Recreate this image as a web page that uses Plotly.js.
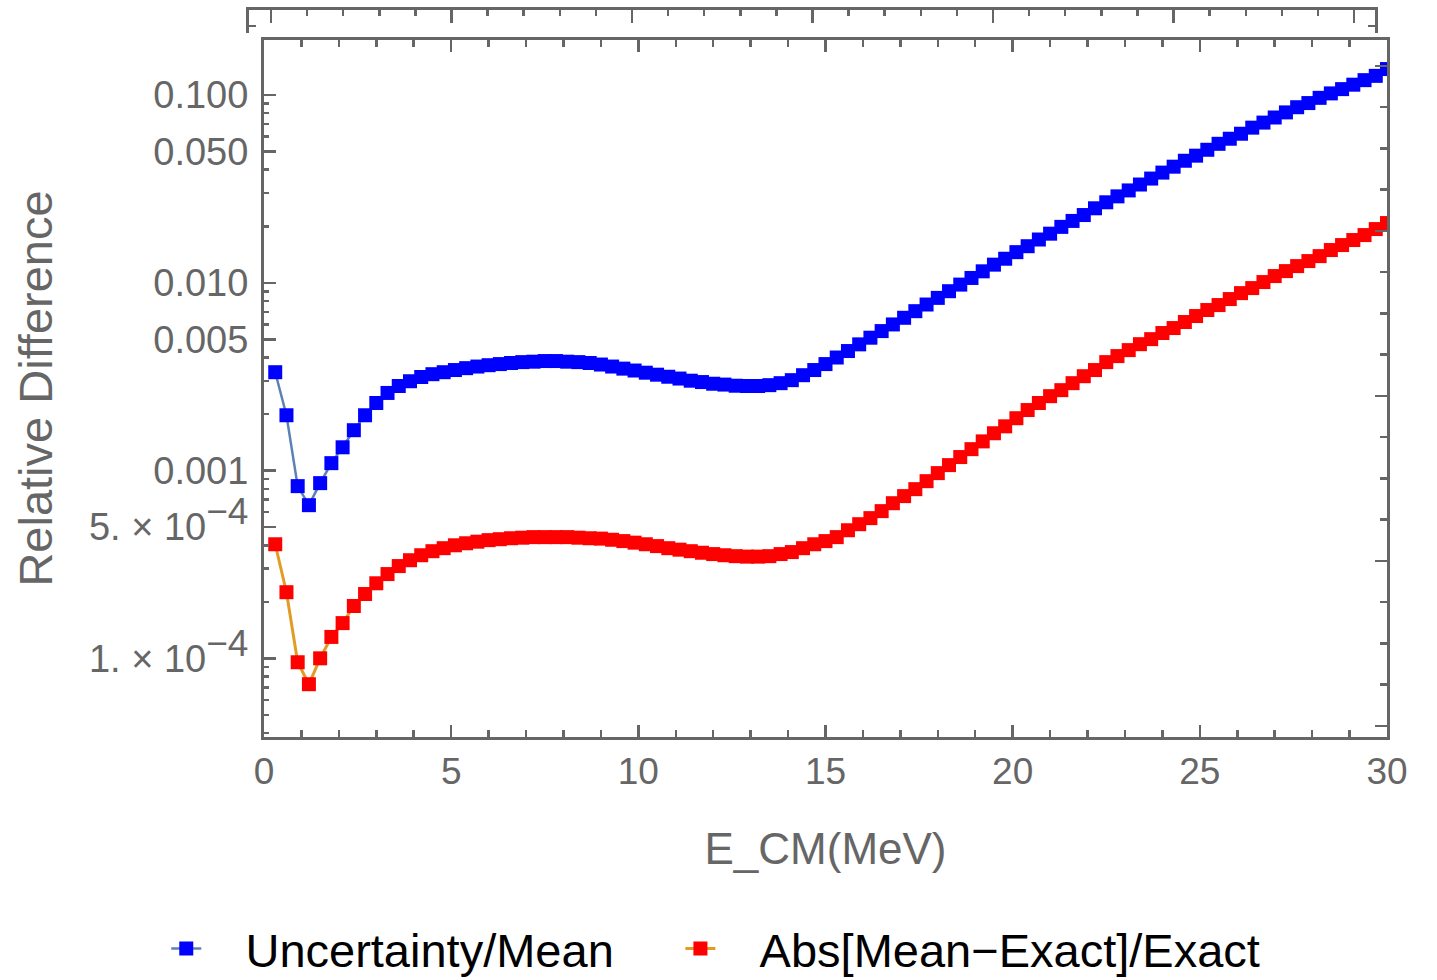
<!DOCTYPE html>
<html>
<head>
<meta charset="utf-8">
<script src="https://cdn.plot.ly/plotly-3.0.1.min.js"></script>
<style>html,body{margin:0;padding:0;background:#fff;}#chart{width:1437px;height:980px;}</style>
</head>
<body>
<div id="chart"></div>
<script>
// E_CM (MeV)
const energy = [0.3,0.6,0.9,1.2,1.5,1.8,2.1,2.4,2.7,3.0,3.3,3.6,3.9,4.2,4.5,4.8,5.1,5.4,5.7,6.0,
  6.3,6.6,6.9,7.2,7.5,7.8,8.1,8.4,8.7,9.0,9.3,9.6,9.9,10.2,10.5,10.8,11.1,11.4,11.7,12.0,
  12.3,12.6,12.9,13.2,13.5,13.8,14.1,14.4,14.7,15.0,15.3,15.6,15.9,16.2,16.5,16.8,17.1,17.4,17.7,18.0,
  18.3,18.6,18.9,19.2,19.5,19.8,20.1,20.4,20.7,21.0,21.3,21.6,21.9,22.2,22.5,22.8,23.1,23.4,23.7,24.0,
  24.3,24.6,24.9,25.2,25.5,25.8,26.1,26.4,26.7,27.0,27.3,27.6,27.9,28.2,28.5,28.8,29.1,29.4,29.7,30.0];

// Uncertainty/Mean
const uncertaintyOverMean = [0.00334,0.00197,0.000826,0.000654,0.000857,0.001095,0.00133,0.00164,0.00197,0.00229,
  0.00259,0.00282,0.00299,0.00315,0.00326,0.00334,0.00343,0.00351,0.00358,0.00364,
  0.00369,0.00374,0.00378,0.00380,0.00383,0.00383,0.00380,0.00378,0.00374,0.00367,
  0.00358,0.00349,0.00341,0.00332,0.00324,0.00316,0.00309,0.00301,0.00296,0.00290,
  0.00287,0.00283,0.00282,0.00282,0.00285,0.00292,0.00303,0.00322,0.00343,0.00369,
  0.00400,0.00433,0.00470,0.00510,0.00553,0.00600,0.00651,0.00706,0.00766,0.00831,
  0.00902,0.00978,0.01061,0.01151,0.01249,0.01343,0.01456,0.01566,0.01700,0.01826,
  0.01985,0.02135,0.02295,0.02493,0.02683,0.02886,0.03104,0.03337,0.03590,0.03862,
  0.04153,0.04466,0.04753,0.05110,0.05497,0.05850,0.06220,0.06702,0.07130,0.07591,
  0.08080,0.08610,0.09060,0.09660,0.1020,0.1075,0.1135,0.1200,0.1265,0.1375];

// Abs[Mean-Exact]/Exact
const absErrorOverExact = [4.05e-4,2.25e-4,9.53e-5,7.28e-5,1.00e-4,1.30e-4,1.54e-4,1.90e-4,2.20e-4,2.51e-4,
  2.81e-4,3.10e-4,3.33e-4,3.54e-4,3.72e-4,3.86e-4,4.00e-4,4.10e-4,4.18e-4,4.26e-4,
  4.31e-4,4.36e-4,4.39e-4,4.42e-4,4.42e-4,4.42e-4,4.42e-4,4.39e-4,4.36e-4,4.34e-4,
  4.28e-4,4.21e-4,4.13e-4,4.05e-4,3.96e-4,3.86e-4,3.79e-4,3.72e-4,3.65e-4,3.59e-4,
  3.54e-4,3.50e-4,3.48e-4,3.48e-4,3.50e-4,3.59e-4,3.68e-4,3.86e-4,4.05e-4,4.21e-4,
  4.42e-4,4.81e-4,5.18e-4,5.58e-4,6.08e-4,6.70e-4,7.31e-4,7.96e-4,8.78e-4,9.69e-4,
  1.069e-3,1.18e-3,1.30e-3,1.43e-3,1.58e-3,1.72e-3,1.90e-3,2.10e-3,2.29e-3,2.49e-3,
  2.68e-3,2.92e-3,3.18e-3,3.43e-3,3.78e-3,4.07e-3,4.38e-3,4.71e-3,5.01e-3,5.40e-3,
  5.74e-3,6.18e-3,6.65e-3,7.16e-3,7.61e-3,8.19e-3,8.81e-3,9.37e-3,0.01009,0.01086,
  0.01154,0.01227,0.01305,0.01387,0.01494,0.01588,0.01689,0.01795,0.01932,0.0208];

const seriesNames = ['Uncertainty/Mean', 'Abs[Mean\u2212Exact]/Exact'];

// y-axis ticks
const yMajorVals = [1e-4, 5e-4, 0.001, 0.005, 0.01, 0.05, 0.1];
const yMajorText = ['1. \u00d7 10<sup><span style="font-size:37px">\u22124</span></sup>',
                    '5. \u00d7 10<sup><span style="font-size:37px">\u22124</span></sup>',
                    '0.001', '0.005', '0.010', '0.050', '0.100'];
const yMinorVals = [4e-5,5e-5,6e-5,7e-5,8e-5,9e-5,2e-4,3e-4,4e-4,6e-4,7e-4,8e-4,9e-4,
                    0.002,0.003,0.004,0.006,0.007,0.008,0.009,0.02,0.03,0.04,0.06,0.07,0.08,0.09];

const AX = '#666666';
const FONT = 'Liberation Sans, Arial, sans-serif';
const NB = '\u00a0';

const traces = [
  {x: energy, y: uncertaintyOverMean, name: NB + NB + NB + seriesNames[0] + NB + NB + NB + NB + '\u2009',
   type: 'scatter', mode: 'lines+markers',
   line: {color: '#5E81B5', width: 2.5}, marker: {symbol: 'square', size: 14, color: '#0000FF'}},
  {x: energy, y: absErrorOverExact, name: NB + NB + NB + seriesNames[1], type: 'scatter', mode: 'lines+markers',
   line: {color: '#E19C24', width: 3}, marker: {symbol: 'square', size: 14, color: '#FF0000'}},
  // empty traces so that the frame-only axes get drawn
  {x: [], y: [], xaxis: 'x2', yaxis: 'y2', type: 'scatter', mode: 'markers', showlegend: false, hoverinfo: 'skip'},
  {x: [], y: [], xaxis: 'x', yaxis: 'y3', type: 'scatter', mode: 'markers', showlegend: false, hoverinfo: 'skip'}
];

const layout = {
  width: 1437, height: 980,
  paper_bgcolor: '#ffffff', plot_bgcolor: 'rgba(0,0,0,0)',
  margin: {l: 249, r: 50, t: 10, b: 243},
  font: {family: FONT, color: AX, size: 37},
  showlegend: true,
  legend: {orientation: 'h', xref: 'container', yref: 'container', x: 0.1157, y: 0.0316,
           xanchor: 'left', yanchor: 'middle', font: {size: 47, color: '#000000', family: FONT},
           bgcolor: 'rgba(0,0,0,0)'},
  xaxis: {domain: [15/1138, 1], range: [0, 30], tick0: 0, dtick: 5, anchor: 'y',
          ticks: 'inside', ticklen: 12, tickwidth: 2.5, tickcolor: AX,
          minor: {dtick: 1, tick0: 0, ticks: 'inside', ticklen: 7, tickwidth: 2.5, tickcolor: AX, showgrid: false},
          showline: true, linecolor: AX, linewidth: 3, mirror: 'ticks',
          showgrid: false, zeroline: false, tickfont: {size: 37, color: AX}, ticklabelstandoff: 0,
          title: {text: 'E_CM(MeV)', font: {size: 44, color: AX}, standoff: 42}},
  yaxis: {domain: [0, 697/727], type: 'log', range: [-4.419, -0.707], anchor: 'x',
          tickmode: 'array', tickvals: yMajorVals, ticktext: yMajorText,
          ticks: 'inside', ticklen: 12, tickwidth: 2.5, tickcolor: AX,
          minor: {tickmode: 'array', tickvals: yMinorVals, ticks: 'inside', ticklen: 5, tickwidth: 2.5, tickcolor: AX, showgrid: false},
          showline: true, linecolor: AX, linewidth: 3, mirror: true,
          showgrid: false, zeroline: false, tickfont: {size: 38, color: AX}, ticklabelstandoff: 5,
          title: {text: 'Relative Difference', font: {size: 47, color: AX}, standoff: 22}},
  yaxis3: {overlaying: 'y', side: 'right', anchor: 'x', range: [-0.267, 16.63], tick0: 0, dtick: 4,
           ticks: 'inside', ticklen: 12, tickwidth: 2.5, tickcolor: AX,
           minor: {dtick: 1, tick0: 0, ticks: 'inside', ticklen: 7, tickwidth: 2.5, tickcolor: AX, showgrid: false},
           showticklabels: false, showline: false, showgrid: false, zeroline: false},
  xaxis2: {domain: [0, 1126/1138], anchor: 'y2', side: 'top', range: [-0.609, 30.58], tick0: 0, dtick: 5,
           ticks: 'inside', ticklen: 13, tickwidth: 2.5, tickcolor: AX,
           minor: {dtick: 1, tick0: 0, ticks: 'inside', ticklen: 6, tickwidth: 2.5, tickcolor: AX, showgrid: false},
           showline: true, linecolor: AX, linewidth: 3, mirror: false,
           showticklabels: false, showgrid: false, zeroline: false},
  yaxis2: {domain: [704/727, 1], anchor: 'x2', range: [0, 1], tickmode: 'array', tickvals: [0.3],
           ticks: 'inside', ticklen: 7, tickwidth: 2.5, tickcolor: AX,
           showline: true, linecolor: AX, linewidth: 3, mirror: 'ticks',
           showticklabels: false, showgrid: false, zeroline: false}
};

Plotly.newPlot('chart', traces, layout, {displayModeBar: false, staticPlot: true});
</script>
</body>
</html>
